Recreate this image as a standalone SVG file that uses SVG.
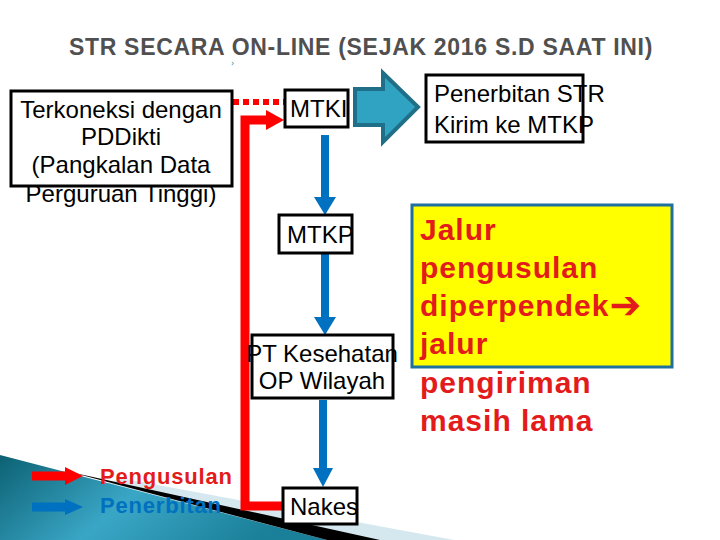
<svg xmlns="http://www.w3.org/2000/svg" width="720" height="540" viewBox="0 0 720 540">
<style>
.box{fill:#fff;stroke:#000;stroke-width:3}
.t{font-family:"Liberation Sans",Arial,sans-serif;font-size:24px;fill:#000}
.c{text-anchor:middle}
.jal{font-family:"Liberation Sans",Arial,sans-serif;font-size:30px;font-weight:bold;fill:#e31b1b;letter-spacing:1px}
.red{stroke:#f00;stroke-width:9;fill:none}
.blu{stroke:#0070c0;stroke-width:8;fill:none}
</style>
<defs>
<linearGradient id="tg" x1="0" y1="0" x2="1" y2="0.3">
<stop offset="0" stop-color="#0c6173"/>
<stop offset="0.5" stop-color="#3aa6c6"/>
<stop offset="1" stop-color="#1a7f98"/>
</linearGradient>
</defs>
<rect width="720" height="540" fill="#fff"/>
<g id="decor">
<polygon points="120,478 454,540 0,540" fill="#d5e8ef"/>
<polygon points="0,455 327,540 0,540" fill="url(#tg)"/>
<polygon points="70,472 380,540 327,540" fill="#000"/>
</g>
<text x="361" y="55" text-anchor="middle" font-family="'Liberation Sans',Arial,sans-serif" font-size="23" font-weight="bold" fill="#505050" letter-spacing="0.7">STR SECARA ON-LINE (SEJAK 2016 S.D SAAT INI)</text>
<text x="231" y="66" font-family="'DejaVu Sans',sans-serif" font-size="8" fill="#2b8aa0">›</text>
<g id="connectors">
<line x1="233" y1="102" x2="284" y2="102" stroke="#f00" stroke-width="6" stroke-dasharray="6 4"/>
<polyline class="red" points="282,506 245,506 245,120 268,120"/>
<polygon points="266,110 284,120 266,130" fill="#f00"/>
<line class="blu" x1="325" y1="135" x2="325" y2="199"/>
<polygon points="314,197 336,197 325,215" fill="#0070c0"/>
<line class="blu" x1="325" y1="253" x2="325" y2="319"/>
<polygon points="314,317 336,317 325,335" fill="#0070c0"/>
<line class="blu" x1="323" y1="400" x2="323" y2="470"/>
<polygon points="313,468 333,468 323,487" fill="#0070c0"/>
<polygon points="355,89 383,89 383,73 418,107 383,142 383,125 355,125" fill="#30a3c3" stroke="#1f6f88" stroke-width="4" stroke-linejoin="miter"/>
</g>
<g id="n-pddikti">
<rect class="box" x="11" y="91" width="221" height="95"/>
<text class="t c" x="121" y="118">Terkoneksi dengan</text>
<text class="t c" x="121" y="145">PDDikti</text>
<text class="t c" x="121" y="173">(Pangkalan Data</text>
<text class="t c" x="121" y="202">Perguruan Tinggi)</text>
</g>
<g id="n-mtki">
<rect class="box" x="285" y="90" width="63" height="37"/>
<text class="t" x="290" y="117">MTKI</text>
</g>
<g id="n-penerbitan">
<rect class="box" x="426" y="75" width="157" height="67"/>
<text class="t" x="434" y="102">Penerbitan STR</text>
<text class="t" x="434" y="133">Kirim ke MTKP</text>
</g>
<g id="n-mtkp">
<rect class="box" x="279" y="215" width="73" height="38"/>
<text class="t" x="287" y="243">MTKP</text>
</g>
<g id="n-pt">
<rect class="box" x="252" y="335" width="141" height="63"/>
<text class="t c" x="322" y="362">PT Kesehatan</text>
<text class="t c" x="322" y="389">OP Wilayah</text>
</g>
<g id="n-nakes">
<rect class="box" x="283" y="488" width="74" height="36"/>
<text class="t" x="290" y="515">Nakes</text>
</g>
<g id="note">
<rect x="412" y="205" width="260" height="162" fill="#ffff00" stroke="#1f6f9f" stroke-width="3"/>
<text class="jal" x="420" y="240">Jalur</text>
<text class="jal" x="420" y="278">pengusulan</text>
<text class="jal" x="420" y="316">diperpendek<tspan font-family="'DejaVu Sans',sans-serif" font-size="38" letter-spacing="0" dy="2">➔</tspan></text>
<text class="jal" x="420" y="354">jalur</text>
<text class="jal" x="420" y="393">pengiriman</text>
<text class="jal" x="420" y="431">masih lama</text>
</g>
<g id="legend">
<line x1="32" y1="476" x2="67" y2="476" stroke="#f00" stroke-width="9"/>
<polygon points="65,467 83,476 65,485" fill="#f00"/>
<text x="100" y="484" font-family="'Liberation Sans',Arial,sans-serif" font-size="22" font-weight="bold" fill="#e31b1b" letter-spacing="0.8">Pengusulan</text>
<line x1="32" y1="507" x2="67" y2="507" stroke="#0070c0" stroke-width="9"/>
<polygon points="65,499 83,507 65,515" fill="#0070c0"/>
<text x="100" y="513" font-family="'Liberation Sans',Arial,sans-serif" font-size="22" font-weight="bold" fill="#0070c0" letter-spacing="0.8">Penerbitan</text>
</g>
</svg>
